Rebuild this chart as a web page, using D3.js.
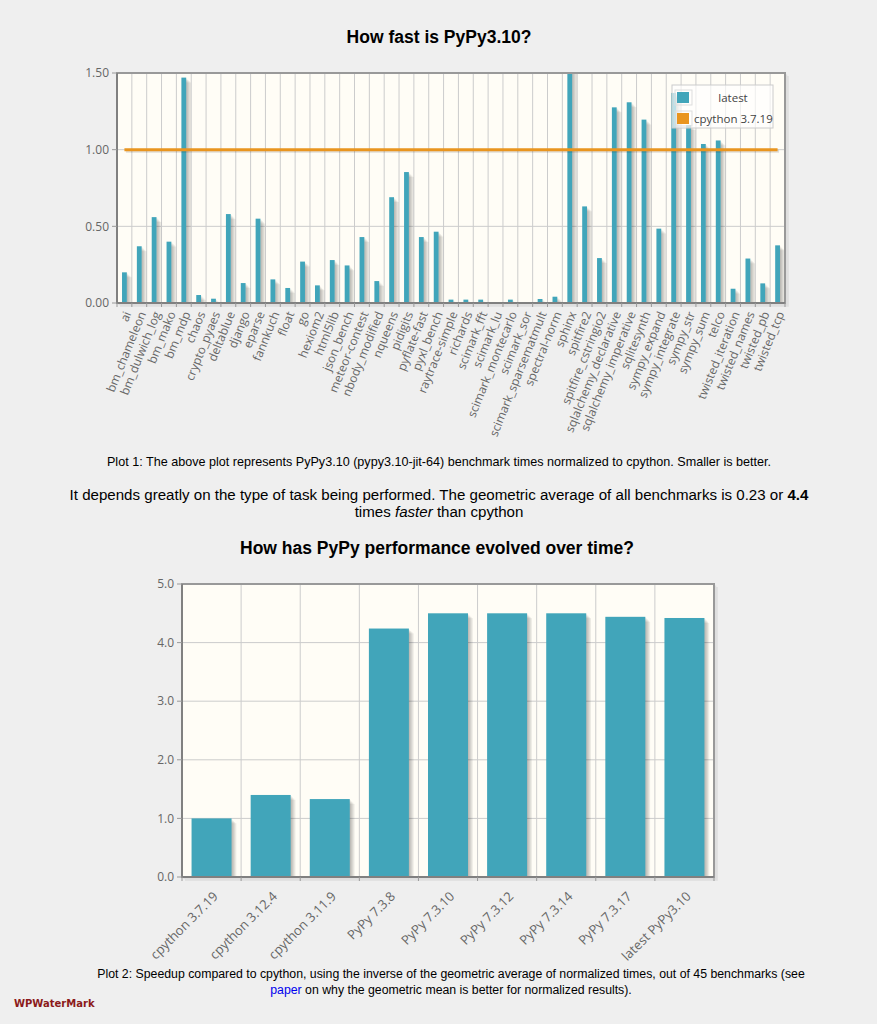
<!DOCTYPE html>
<html>
<head>
<meta charset="utf-8">
<script src="https://cdn.jsdelivr.net/npm/d3@7"></script>
<style>
body { margin: 0; background: #efefef; }
svg { display: block; }
.axis-label { font-family: "Open Sans", sans-serif; fill: #666; }
.txt { font-family: "Liberation Sans", Arial, sans-serif; fill: #000; }
</style>
</head>
<body>
<svg id="page" width="877" height="1024"></svg>
<script>
// plot 1: benchmark times normalized to cpython
var benchmarks = ["ai", "bm_chameleon", "bm_dulwich_log", "bm_mako", "bm_mdp", "chaos",
    "crypto_pyaes", "deltablue", "django", "eparse", "fannkuch", "float", "go", "hexiom2",
    "html5lib", "json_bench", "meteor-contest", "nbody_modified", "nqueens", "pidigits",
    "pyflate-fast", "pyxl_bench", "raytrace-simple", "richards", "scimark_fft", "scimark_lu",
    "scimark_montecarlo", "scimark_sor", "scimark_sparsematmult", "spectral-norm", "sphinx",
    "spitfire2", "spitfire_cstringio2", "sqlalchemy_declarative", "sqlalchemy_imperative",
    "sqlitesynth", "sympy_expand", "sympy_integrate", "sympy_str", "sympy_sum", "telco",
    "twisted_iteration", "twisted_names", "twisted_pb", "twisted_tcp"];
var latestTimes = [0.20, 0.37, 0.56, 0.40, 1.47, 0.052,
    0.028, 0.58, 0.13, 0.55, 0.154, 0.098, 0.27, 0.115,
    0.28, 0.245, 0.43, 0.143, 0.69, 0.854,
    0.43, 0.465, 0.022, 0.022, 0.022, 0.005,
    0.022, 0.004, 0.026, 0.041, 1.55,
    0.63, 0.293, 1.276, 1.309,
    1.196, 0.485, 1.37, 1.16, 1.037, 1.06,
    0.093, 0.29, 0.128, 0.376];
var baselineName = "cpython 3.7.19";
var baselineValue = 1.0;
var yTicks1 = [0, 0.5, 1.0, 1.5];

// plot 2: speedup over time
var versions = ["cpython 3.7.19", "cpython 3.12.4", "cpython 3.11.9", "PyPy 7.3.8",
    "PyPy 7.3.10", "PyPy 7.3.12", "PyPy 7.3.14", "PyPy 7.3.17", "latest PyPy3.10"];
var speedups = [1.0, 1.40, 1.33, 4.24, 4.50, 4.50, 4.50, 4.44, 4.42];
var yTicks2 = [0, 1, 2, 3, 4, 5];

var teal = "#41a5ba", orange = "#e9951f";
var svg = d3.select("#page");

function drawGrid(g, x, y, cats, ticks, box) {
    g.append("rect")
        .attr("x", box.left).attr("y", box.top)
        .attr("width", box.right - box.left).attr("height", box.bottom - box.top)
        .attr("fill", "#fffdf6");
    g.selectAll(".vgrid").data(cats.slice(1)).enter().append("line")
        .attr("x1", function(d) { return x(d); }).attr("x2", function(d) { return x(d); })
        .attr("y1", box.top).attr("y2", box.bottom)
        .attr("stroke", "#cccccc").attr("stroke-width", 1);
    g.selectAll(".hgrid").data(ticks.slice(1, -1)).enter().append("line")
        .attr("x1", box.left).attr("x2", box.right)
        .attr("y1", function(d) { return y(d); }).attr("y2", function(d) { return y(d); })
        .attr("stroke", "#cccccc").attr("stroke-width", 1);
}

function drawBorder(g, x, y, cats, ticks, box, fmt) {
    // shadow of the frame
    [1.5, 3].forEach(function(o) {
        g.append("path")
            .attr("d", "M" + (box.left + o) + "," + (box.bottom + o) + "H" + (box.right + o) + "V" + (box.top + o))
            .attr("fill", "none").attr("stroke", "rgba(0,0,0,0.07)").attr("stroke-width", 1.5);
    });
    g.append("rect")
        .attr("x", box.left).attr("y", box.top)
        .attr("width", box.right - box.left).attr("height", box.bottom - box.top)
        .attr("fill", "none").attr("stroke", "#999999").attr("stroke-width", 2);
    g.append("path")
        .attr("d", "M" + box.left + "," + box.top + "V" + box.bottom + "H" + box.right)
        .attr("fill", "none").attr("stroke", "#808080").attr("stroke-width", 2);
    // x ticks at category boundaries
    var bounds = cats.map(function(d) { return x(d); }).concat([box.right]);
    g.selectAll(".xtick").data(bounds).enter().append("line")
        .attr("x1", function(d) { return d; }).attr("x2", function(d) { return d; })
        .attr("y1", box.bottom).attr("y2", box.bottom + 4)
        .attr("stroke", "#999999");
    g.selectAll(".ytick").data(ticks).enter().append("line")
        .attr("x1", box.left - 5).attr("x2", box.left)
        .attr("y1", function(d) { return y(d); }).attr("y2", function(d) { return y(d); })
        .attr("stroke", "#999999");
    g.selectAll(".ylab").data(ticks).enter().append("text")
        .attr("class", "axis-label")
        .attr("x", box.left - 8).attr("y", function(d) { return y(d); })
        .attr("dy", "0.35em").attr("text-anchor", "end")
        .style("font-size", "12px")
        .text(fmt);
}

function drawBars(g, x, y, cats, vals, w, box) {
    var data = cats.map(function(d, i) { return {c: d, v: vals[i]}; });
    var clipId = "clip" + Math.round(box.top);
    g.append("clipPath").attr("id", clipId).append("rect")
        .attr("x", box.left).attr("y", box.top)
        .attr("width", box.right - box.left).attr("height", box.bottom - box.top);
    var bg = g.append("g").attr("clip-path", "url(#" + clipId + ")");
    [1.2, 2.4, 3.6, 4.8].forEach(function(o) {
        bg.selectAll(null).data(data).enter().append("rect")
            .attr("x", function(d) { return x(d.c) + x.bandwidth() / 2 - w / 2 + o; })
            .attr("y", function(d) { return y(d.v) + o; })
            .attr("width", w)
            .attr("height", function(d) { return Math.max(0, box.bottom - y(d.v) - o); })
            .attr("fill", "rgba(0,0,0,0.07)");
    });
    bg.selectAll(null).data(data).enter().append("rect")
        .attr("x", function(d) { return x(d.c) + x.bandwidth() / 2 - w / 2; })
        .attr("y", function(d) { return y(d.v); })
        .attr("width", w)
        .attr("height", function(d) { return box.bottom - y(d.v); })
        .attr("fill", teal);
}

// ---------- plot 1 ----------
var box1 = {left: 117, top: 73, right: 785, bottom: 303};
var x1 = d3.scaleBand().domain(benchmarks).range([box1.left, box1.right]);
var y1 = d3.scaleLinear().domain([0, 1.5]).range([box1.bottom, box1.top]);
var g1 = svg.append("g");

svg.append("text").attr("class", "txt")
    .attr("x", 439).attr("y", 43).attr("text-anchor", "middle")
    .style("font-size", "17.5px").style("font-weight", "bold")
    .text("How fast is PyPy3.10?");

drawGrid(g1, x1, y1, benchmarks, yTicks1, box1);
drawBars(g1, x1, y1, benchmarks, latestTimes, 4.8, box1);

var lx0 = x1(benchmarks[0]) + x1.bandwidth() / 2;
var lx1 = x1(benchmarks[benchmarks.length - 1]) + x1.bandwidth() / 2;
g1.append("line")
    .attr("x1", lx0 + 1.5).attr("x2", lx1 + 1.5)
    .attr("y1", y1(baselineValue) + 1.5).attr("y2", y1(baselineValue) + 1.5)
    .attr("stroke", "rgba(0,0,0,0.12)").attr("stroke-width", 3);
g1.append("line")
    .attr("x1", lx0).attr("x2", lx1)
    .attr("y1", y1(baselineValue)).attr("y2", y1(baselineValue))
    .attr("stroke", orange).attr("stroke-width", 3);

drawBorder(g1, x1, y1, benchmarks, yTicks1, box1, d3.format(".2f"));

g1.selectAll(".xlab").data(benchmarks).enter().append("text")
    .attr("class", "axis-label")
    .attr("transform", function(d) {
        return "translate(" + (x1(d) + x1.bandwidth() / 2 + 3) + "," + (box1.bottom + 9) + ") rotate(-68)";
    })
    .attr("text-anchor", "end").attr("dy", "0.35em")
    .style("font-size", "12px")
    .text(function(d) { return d; });

// legend
var leg = g1.append("g").attr("transform", "translate(672,85)");
leg.append("rect").attr("width", 101).attr("height", 43)
    .attr("fill", "rgba(255,255,255,0.65)").attr("stroke", "#cccccc");
var legItems = [{name: "latest", color: teal}, {name: baselineName, color: orange}];
legItems.forEach(function(it, i) {
    var ly = 6 + i * 21;
    leg.append("rect").attr("x", 3).attr("y", ly - 1).attr("width", 17).attr("height", 15)
        .attr("fill", "none").attr("stroke", "#dddddd");
    leg.append("rect").attr("x", 5).attr("y", ly + 1).attr("width", 12).attr("height", 11)
        .attr("fill", it.color);
    leg.append("text").attr("class", "axis-label")
        .attr("x", i === 0 ? 61 : 22).attr("y", ly + 6.5).attr("dy", "0.35em")
        .attr("text-anchor", i === 0 ? "middle" : "start")
        .style("font-size", "11.5px").style("fill", "#444")
        .text(it.name);
});

// captions
svg.append("text").attr("class", "txt")
    .attr("x", 439).attr("y", 466).attr("text-anchor", "middle")
    .style("font-size", "12.6px")
    .text("Plot 1: The above plot represents PyPy3.10 (pypy3.10-jit-64) benchmark times normalized to cpython. Smaller is better.");

var s1 = svg.append("text").attr("class", "txt")
    .attr("x", 439).attr("y", 500).attr("text-anchor", "middle")
    .style("font-size", "15.1px");
s1.append("tspan").text("It depends greatly on the type of task being performed. The geometric average of all benchmarks is 0.23 or ");
s1.append("tspan").style("font-weight", "bold").text("4.4");
var s2 = svg.append("text").attr("class", "txt")
    .attr("x", 439).attr("y", 517).attr("text-anchor", "middle")
    .style("font-size", "15.1px");
s2.append("tspan").text("times ");
s2.append("tspan").style("font-style", "italic").text("faster");
s2.append("tspan").text(" than cpython");

svg.append("text").attr("class", "txt")
    .attr("x", 437).attr("y", 554).attr("text-anchor", "middle")
    .style("font-size", "17.5px").style("font-weight", "bold")
    .text("How has PyPy performance evolved over time?");

// ---------- plot 2 ----------
var box2 = {left: 182, top: 584, right: 714, bottom: 877};
var x2 = d3.scaleBand().domain(versions).range([box2.left, box2.right]);
var y2 = d3.scaleLinear().domain([0, 5]).range([box2.bottom, box2.top]);
var g2 = svg.append("g");

drawGrid(g2, x2, y2, versions, yTicks2, box2);
drawBars(g2, x2, y2, versions, speedups, 40, box2);
drawBorder(g2, x2, y2, versions, yTicks2, box2, d3.format(".1f"));

g2.selectAll(".xlab").data(versions).enter().append("text")
    .attr("class", "axis-label")
    .attr("transform", function(d) {
        return "translate(" + (x2(d) + x2.bandwidth() / 2 + 4) + "," + (box2.bottom + 17) + ") rotate(-45)";
    })
    .attr("text-anchor", "end").attr("dy", "0.35em")
    .style("font-size", "13px")
    .text(function(d) { return d; });

svg.append("text").attr("class", "txt")
    .attr("x", 451).attr("y", 978).attr("text-anchor", "middle")
    .style("font-size", "12.3px")
    .text("Plot 2: Speedup compared to cpython, using the inverse of the geometric average of normalized times, out of 45 benchmarks (see");
var c2 = svg.append("text").attr("class", "txt")
    .attr("x", 451).attr("y", 994).attr("text-anchor", "middle")
    .style("font-size", "12.3px");
c2.append("tspan").style("fill", "#0000ee").text("paper");
c2.append("tspan").text(" on why the geometric mean is better for normalized results).");

svg.append("text")
    .attr("x", 14).attr("y", 1007)
    .style("font-family", "'DejaVu Sans', sans-serif")
    .style("font-size", "10px").style("font-weight", "bold").style("fill", "#8b1a1a")
    .text("WPWaterMark");
</script>
</body>
</html>
